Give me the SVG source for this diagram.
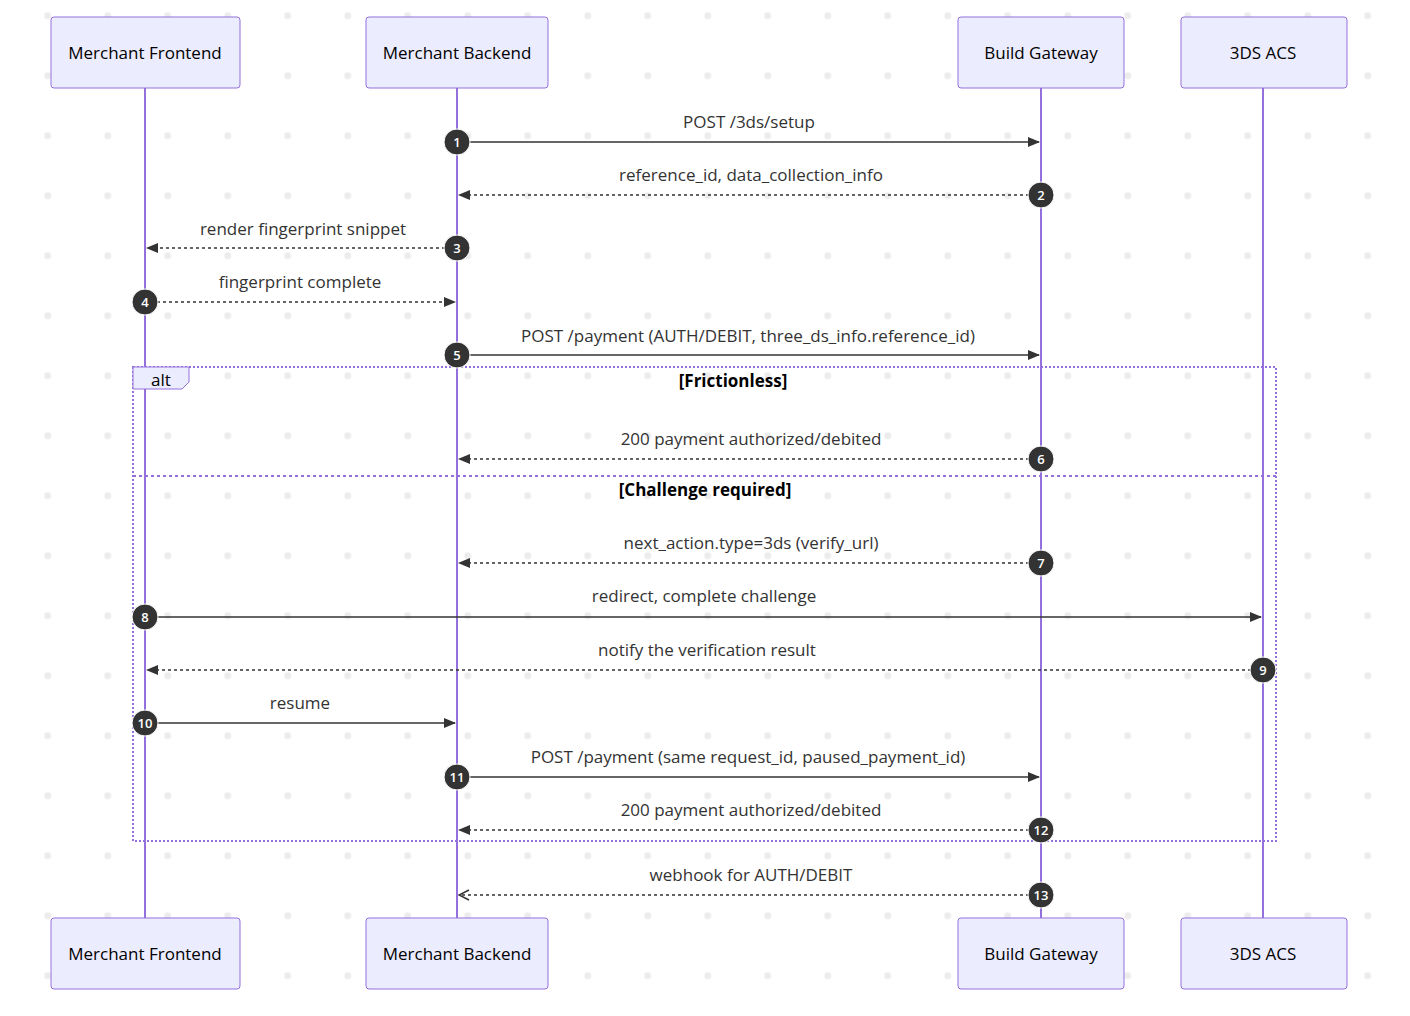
<svg xmlns="http://www.w3.org/2000/svg" width="1410" height="1016" viewBox="0 0 1410 1016">
<defs>
<pattern id="dots" x="17.7" y="15.7" width="60" height="60" patternUnits="userSpaceOnUse"><circle cx="30" cy="0" r="3.5" fill="#ececec"/><circle cx="30" cy="60" r="3.5" fill="#ececec"/></pattern>
<marker id="ah" viewBox="0 0 12 12" refX="11" refY="6" markerWidth="12" markerHeight="12" orient="auto" markerUnits="userSpaceOnUse"><path d="M0,1 L12,6 L0,11 z" fill="#333"/></marker>
<marker id="oh" viewBox="0 0 12 12" refX="11" refY="6" markerWidth="12" markerHeight="12" orient="auto" markerUnits="userSpaceOnUse"><path d="M1,1 L11,6 L1,11" fill="none" stroke="#333" stroke-width="1.5"/></marker>
</defs>
<style>
text{font-family:"Open Sans","Liberation Sans",sans-serif;font-size:17px;fill:#333}
.box{fill:#ECECFF;stroke:#9370DB;stroke-width:1}
.ln{stroke:#9370DB;stroke-width:2}
.m{stroke:#333;stroke-width:1.5;fill:none}
.d{stroke-dasharray:3,3}
.lbl{text-anchor:middle}
.n circle{fill:#333;stroke:#fff;stroke-width:1}
.n text{fill:#fff;font-size:13px;text-anchor:middle;font-weight:600}
.nm{text-anchor:middle;fill:#000}
</style>
<rect width="1410" height="1016" fill="#fff"/>
<rect width="1410" height="1016" fill="url(#dots)"/>
<g id="lifelines">
<line class="ln" x1="145" y1="88" x2="145" y2="918"/>
<line class="ln" x1="457" y1="88" x2="457" y2="918"/>
<line class="ln" x1="1041" y1="88" x2="1041" y2="918"/>
<line class="ln" x1="1263" y1="88" x2="1263" y2="918"/>
</g>
<g id="alt">
<rect x="133" y="367" width="1143" height="474" fill="none" stroke="#9370DB" stroke-width="2" stroke-dasharray="2,2"/>
<line x1="133" y1="476" x2="1276" y2="476" stroke="#9370DB" stroke-width="2" stroke-dasharray="3,3"/>
<path d="M133,367 H189 V382 L182,389 H133 z" fill="#ECECFF" stroke="#9370DB"/>
<text x="161" y="386" class="nm">alt</text>
<text x="733" y="387" class="nm" font-weight="bold">[Frictionless]</text>
<text x="705" y="496" class="nm" font-weight="bold">[Challenge required]</text>
</g>
<g id="frontend"><rect class="box" x="51" y="17" width="189" height="71" rx="3"/><text class="nm" x="145" y="59">Merchant Frontend</text>
<rect class="box" x="51" y="918" width="189" height="71" rx="3"/><text class="nm" x="145" y="960">Merchant Frontend</text></g>
<g id="backend"><rect class="box" x="366" y="17" width="182" height="71" rx="3"/><text class="nm" x="457" y="59">Merchant Backend</text>
<rect class="box" x="366" y="918" width="182" height="71" rx="3"/><text class="nm" x="457" y="960">Merchant Backend</text></g>
<g id="gateway"><rect class="box" x="958" y="17" width="166" height="71" rx="3"/><text class="nm" x="1041" y="59">Build Gateway</text>
<rect class="box" x="958" y="918" width="166" height="71" rx="3"/><text class="nm" x="1041" y="960">Build Gateway</text></g>
<g id="acs"><rect class="box" x="1181" y="17" width="166" height="71" rx="3"/><text class="nm" x="1263" y="59">3DS ACS</text>
<rect class="box" x="1181" y="918" width="166" height="71" rx="3"/><text class="nm" x="1263" y="960">3DS ACS</text></g>
<g id="connectors">
<line class="m" x1="457" y1="142" x2="1039" y2="142" marker-end="url(#ah)"/><text class="lbl" x="749" y="128">POST /3ds/setup</text>
<line class="m d" x1="1041" y1="195" x2="459" y2="195" marker-end="url(#ah)"/><text class="lbl" x="751" y="181">reference_id, data_collection_info</text>
<line class="m d" x1="457" y1="248" x2="147" y2="248" marker-end="url(#ah)"/><text class="lbl" x="303" y="235">render fingerprint snippet</text>
<line class="m d" x1="145" y1="302" x2="455" y2="302" marker-end="url(#ah)"/><text class="lbl" x="300" y="288">fingerprint complete</text>
<line class="m" x1="457" y1="355" x2="1039" y2="355" marker-end="url(#ah)"/><text class="lbl" x="748" y="342">POST /payment (AUTH/DEBIT, three_ds_info.reference_id)</text>
<line class="m d" x1="1041" y1="459" x2="459" y2="459" marker-end="url(#ah)"/><text class="lbl" x="751" y="445">200 payment authorized/debited</text>
<line class="m d" x1="1041" y1="563" x2="459" y2="563" marker-end="url(#ah)"/><text class="lbl" x="751" y="549">next_action.type=3ds (verify_url)</text>
<line class="m" x1="145" y1="617" x2="1261" y2="617" marker-end="url(#ah)"/><text class="lbl" x="704" y="602">redirect, complete challenge</text>
<line class="m d" x1="1263" y1="670" x2="147" y2="670" marker-end="url(#ah)"/><text class="lbl" x="707" y="656">notify the verification result</text>
<line class="m" x1="145" y1="723" x2="455" y2="723" marker-end="url(#ah)"/><text class="lbl" x="300" y="709">resume</text>
<line class="m" x1="457" y1="777" x2="1039" y2="777" marker-end="url(#ah)"/><text class="lbl" x="748" y="763">POST /payment (same request_id, paused_payment_id)</text>
<line class="m d" x1="1041" y1="830" x2="459" y2="830" marker-end="url(#ah)"/><text class="lbl" x="751" y="816">200 payment authorized/debited</text>
<line class="m d" x1="1041" y1="895" x2="459" y2="895" marker-end="url(#oh)"/><text class="lbl" x="751" y="881">webhook for AUTH/DEBIT</text>
</g>
<g id="numbers" class="n">
<circle cx="457" cy="142" r="13"/><text x="457" y="147">1</text>
<circle cx="1041" cy="195" r="13"/><text x="1041" y="200">2</text>
<circle cx="457" cy="248" r="13"/><text x="457" y="253">3</text>
<circle cx="145" cy="302" r="13"/><text x="145" y="307">4</text>
<circle cx="457" cy="355" r="13"/><text x="457" y="360">5</text>
<circle cx="1041" cy="459" r="13"/><text x="1041" y="464">6</text>
<circle cx="1041" cy="563" r="13"/><text x="1041" y="568">7</text>
<circle cx="145" cy="617" r="13"/><text x="145" y="622">8</text>
<circle cx="1263" cy="670" r="13"/><text x="1263" y="675">9</text>
<circle cx="145" cy="723" r="13"/><text x="145" y="728">10</text>
<circle cx="457" cy="777" r="13"/><text x="457" y="782">11</text>
<circle cx="1041" cy="830" r="13"/><text x="1041" y="835">12</text>
<circle cx="1041" cy="895" r="13"/><text x="1041" y="900">13</text>
</g>
</svg>
